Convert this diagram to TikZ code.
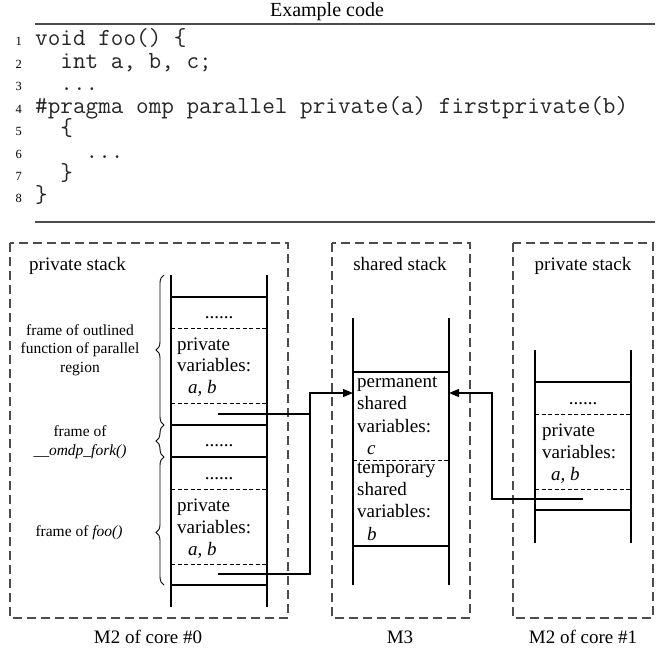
\documentclass[tikz,border=0pt]{standalone}
\usepackage{fontspec}
\setmainfont{Liberation Serif}
\usetikzlibrary{decorations.pathreplacing,arrows.meta}

\tikzset{
  membox/.style={draw=black!70, line width=1.3pt, dash pattern=on 9pt off 5pt},
  wall/.style={line width=1.2pt},
  sep/.style={line width=1.2pt},
  slot/.style={line width=0.9pt, dash pattern=on 4pt off 2.5pt},
  link/.style={line width=1.2pt},
  arr/.style={link, -{Triangle[length=10pt,width=8pt]}},
  rulebar/.style={draw=black!70, line width=1.5pt},
  body/.style={font=\fontsize{19}{22}\selectfont, inner sep=0pt},
  cell/.style={body, anchor=base west},
  dots/.style={body, anchor=base},
  note/.style={font=\fontsize{15.5}{18.5}\selectfont, align=center, inner sep=0pt},
  titletext/.style={font=\fontsize{20}{24}\selectfont, anchor=base, inner sep=0pt},
  codeline/.style={font=\fontsize{24.5}{22}\ttfamily, text=black!85, anchor=base west, inner sep=0pt},
  lineno/.style={font=\fontsize{12.5}{14}\selectfont, anchor=base east, inner sep=0pt},
  fbrace/.style={decorate, decoration={brace, amplitude=8pt, #1}, line width=0.9pt},
  fbrace/.default={aspect=0.5},
}

\begin{document}
\begin{tikzpicture}[x=1pt,y=-1pt]
\useasboundingbox (0,0) rectangle (661,650);

% ---------- code listing ----------
\node[titletext] (title) at (327,17) {Example code};
\draw[rulebar] (35,24) -- (655,24);

\node[lineno] (num1) at (22,46.0)  {1};
\node[lineno] (num2) at (22,68.4)  {2};
\node[lineno] (num3) at (22,90.8)  {3};
\node[lineno] (num4) at (22,113.2) {4};
\node[lineno] (num5) at (22,135.6) {5};
\node[lineno] (num6) at (22,158.0) {6};
\node[lineno] (num7) at (22,180.4) {7};
\node[lineno] (num8) at (22,202.8) {8};

\node[codeline] (code1) at (35,46.0)  {void foo() \{};
\node[codeline] (code2) at (35,68.4)  {\phantom{xx}int a, b, c;};
\node[codeline] (code3) at (35,90.8)  {\phantom{xx}...};
\node[codeline] (code4) at (35,113.2) {\#pragma omp parallel private(a) firstprivate(b)};
\node[codeline] (code5) at (35,135.6) {\phantom{xx}\{};
\node[codeline] (code6) at (35,158.0) {\phantom{xxxx}...};
\node[codeline] (code7) at (35,180.4) {\phantom{xx}\}};
\node[codeline] (code8) at (35,202.8) {\}};

\draw[rulebar] (35,222) -- (655,222);

% ---------- memory regions ----------
\draw[membox] (10,243) rectangle (288,618);
\draw[membox] (332,243) rectangle (470,618);
\draw[membox] (513,243) rectangle (653,618);

\node[cell] (ps0) at (29,270) {private stack};
\node[body, anchor=base] (ss) at (400,270) {shared stack};
\node[body, anchor=base] (ps1) at (583,270) {private stack};

\node[body, anchor=base] (m20) at (148,643) {M2 of core \#0};
\node[body, anchor=base] (m3)  at (400,643) {M3};
\node[body, anchor=base] (m21) at (583,643) {M2 of core \#1};

% ---------- private stack of core #0 ----------
\draw[wall] (171,275) -- (171,607);
\draw[wall] (267,275) -- (267,607);
\draw[sep] (171,297) -- (267,297);
\draw[slot] (171,328) -- (267,328);
\draw[slot] (171,403) -- (267,403);
\draw[sep] (171,425) -- (267,425);
\draw[sep] (171,457) -- (267,457);
\draw[slot] (171,489) -- (267,489);
\draw[slot] (171,564) -- (267,564);
\draw[sep] (171,585) -- (267,585);

\node[dots] (d1) at (219,318) {......};
\node[cell] (pa1) at (177,350) {private};
\node[cell] (pa2) at (177,371.5) {variables:};
\node[cell] (pa3) at (188,393) {\textit{a, b}};
\node[dots] (d2) at (219,446) {......};
\node[dots] (d3) at (219,479) {......};
\node[cell] (pb1) at (177,511) {private};
\node[cell] (pb2) at (177,533) {variables:};
\node[cell] (pb3) at (188,555) {\textit{a, b}};

\draw[fbrace] (164,425) -- (164,275);
\draw[fbrace] (164,457) -- (164,425);
\draw[fbrace={aspect=0.41}] (164,585) -- (164,457);

\node[note] (f1) at (80,350) {frame of outlined\\function of parallel\\region};
\node[note] (f2) at (80,442) {frame of\\\textit{\_\_omdp\_fork()}};
\node[note] (f3) at (79,533) {frame of \textit{foo()}};

% ---------- shared stack ----------
\draw[wall] (353,318) -- (353,585);
\draw[wall] (449,318) -- (449,585);
\draw[sep] (353,372) -- (449,372);
\draw[slot] (353,460) -- (449,460);
\draw[sep] (353,546) -- (449,546);

\node[cell] (sa1) at (357,387) {permanent};
\node[cell] (sa2) at (357,409.5) {shared};
\node[cell] (sa3) at (357,432) {variables:};
\node[cell] (sa4) at (367,454) {\textit{c}};
\node[cell] (sb1) at (357,473) {temporary};
\node[cell] (sb2) at (357,495) {shared};
\node[cell] (sb3) at (357,517.5) {variables:};
\node[cell] (sb4) at (367,540) {\textit{b}};

% ---------- private stack of core #1 ----------
\draw[wall] (535,350) -- (535,543);
\draw[wall] (631,350) -- (631,543);
\draw[sep] (535,382) -- (631,382);
\draw[slot] (535,414) -- (631,414);
\draw[slot] (535,489) -- (631,489);
\draw[sep] (535,510) -- (631,510);

\node[dots] (d4) at (583,404) {......};
\node[cell] (pc1) at (542,436) {private};
\node[cell] (pc2) at (542,458) {variables:};
\node[cell] (pc3) at (551,480) {\textit{a, b}};

% ---------- pointers into the shared stack ----------
\coordinate (ptrA) at (218,414);
\coordinate (ptrB) at (218,574);
\coordinate (ptrC) at (583,499);
\coordinate (permL) at (353,393);
\coordinate (permR) at (449,393);
\coordinate (joinL) at (310,414);

\draw[arr] (ptrA) -| (310,393) -- (permL);
\draw[link] (ptrB) -| (joinL);
\draw[arr] (ptrC) -| (492,393) -- (permR);
\end{tikzpicture}
\end{document}
